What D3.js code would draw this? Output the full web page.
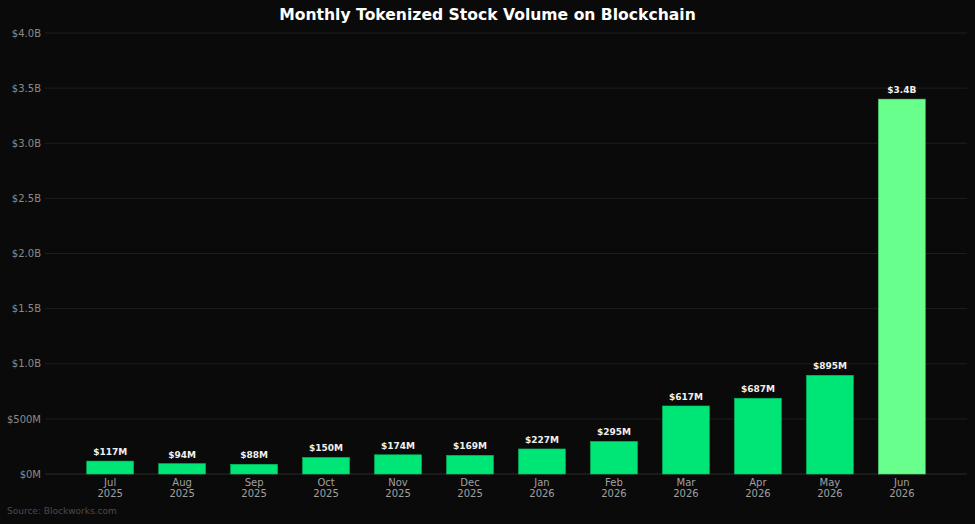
<!DOCTYPE html>
<html>
<head>
<meta charset="utf-8">
<script src="https://cdn.jsdelivr.net/npm/d3@7"></script>
<style>
  html, body { margin: 0; padding: 0; background: #0a0a0a; }
  svg { display: block; font-family: "DejaVu Sans", sans-serif; }
</style>
</head>
<body>
<div id="chart-container"></div>
<script>
// Chart data
const months = ["Jul", "Aug", "Sep", "Oct", "Nov", "Dec", "Jan", "Feb", "Mar", "Apr", "May", "Jun"];
const years = ["2025", "2025", "2025", "2025", "2025", "2025", "2026", "2026", "2026", "2026", "2026", "2026"];
const volumes = [117, 94, 88, 150, 174, 169, 227, 295, 617, 687, 895, 3400]; // $M
const valueLabels = ["$117M", "$94M", "$88M", "$150M", "$174M", "$169M", "$227M", "$295M", "$617M", "$687M", "$895M", "$3.4B"];
const yTicks = [0, 500, 1000, 1500, 2000, 2500, 3000, 3500, 4000];
const yTickLabels = ["$0M", "$500M", "$1.0B", "$1.5B", "$2.0B", "$2.5B", "$3.0B", "$3.5B", "$4.0B"];

const W = 975, H = 524;
const plot = { left: 45, right: 967, top: 33, bottom: 474 };

const svg = d3.select("#chart-container")
  .append("svg")
  .attr("width", W)
  .attr("height", H);

svg.append("rect")
  .attr("width", W)
  .attr("height", H)
  .attr("fill", "#0a0a0a");

const keys = d3.range(months.length);

const x = d3.scaleBand()
  .domain(keys)
  .range([plot.left, plot.right])
  .paddingInner(0.35)
  .paddingOuter(0.58);

const y = d3.scaleLinear()
  .domain([0, 4000])
  .range([plot.bottom, plot.top]);

// Grid lines
svg.append("g")
  .selectAll("line")
  .data(yTicks)
  .enter().append("line")
  .attr("x1", plot.left)
  .attr("x2", plot.right)
  .attr("y1", d => y(d))
  .attr("y2", d => y(d))
  .attr("stroke", d => d === 0 ? "#2a2a2a" : "#1e1e1e")
  .attr("stroke-width", 1);

// Y axis
const yAxis = svg.append("g")
  .attr("transform", `translate(${plot.left},0)`)
  .call(d3.axisLeft(y).tickValues(yTicks).tickSize(0).tickPadding(4)
    .tickFormat((d, i) => yTickLabels[i]));
yAxis.select(".domain").remove();
yAxis.selectAll("text")
  .attr("fill", "#8a8a8a")
  .style("font-size", "10px")
  .style("font-family", "DejaVu Sans, sans-serif");

// X axis
const xAxis = svg.append("g")
  .attr("transform", `translate(0,${plot.bottom})`)
  .call(d3.axisBottom(x).tickSize(0).tickPadding(4).tickFormat(""));
xAxis.select(".domain").remove();
xAxis.selectAll(".tick").each(function (d) {
  const t = d3.select(this).append("text")
    .attr("fill", "#a0a0a0")
    .attr("text-anchor", "middle")
    .style("font-size", "10px")
    .style("font-family", "DejaVu Sans, sans-serif");
  t.append("tspan").attr("x", 0).attr("y", 12).text(months[d]);
  t.append("tspan").attr("x", 0).attr("y", 23).text(years[d]);
});

// Bars
svg.append("g")
  .selectAll("rect")
  .data(keys)
  .enter().append("rect")
  .attr("x", d => x(d))
  .attr("y", d => y(volumes[d]))
  .attr("width", x.bandwidth())
  .attr("height", d => y(0) - y(volumes[d]))
  .attr("fill", d => d === keys.length - 1 ? "#69ff8c" : "#00e676")
  .attr("stroke", d => d === keys.length - 1 ? "#4fd873" : "#00c060")
  .attr("stroke-width", 0.6);

// Value labels
svg.append("g")
  .selectAll("text")
  .data(keys)
  .enter().append("text")
  .attr("x", d => x(d) + x.bandwidth() / 2)
  .attr("y", d => y(volumes[d]) - 6)
  .attr("text-anchor", "middle")
  .attr("fill", "#f0f0f0")
  .style("font-size", "9px")
  .style("font-weight", "bold")
  .text(d => valueLabels[d]);

// Title
svg.append("text")
  .attr("x", W / 2)
  .attr("y", 20)
  .attr("text-anchor", "middle")
  .attr("fill", "#ffffff")
  .style("font-size", "15.6px")
  .style("font-weight", "bold")
  .text("Monthly Tokenized Stock Volume on Blockchain");

// Source note
svg.append("text")
  .attr("x", 7)
  .attr("y", 514)
  .attr("fill", "#4a4a4a")
  .style("font-size", "9px")
  .text("Source: Blockworks.com");
</script>
</body>
</html>
